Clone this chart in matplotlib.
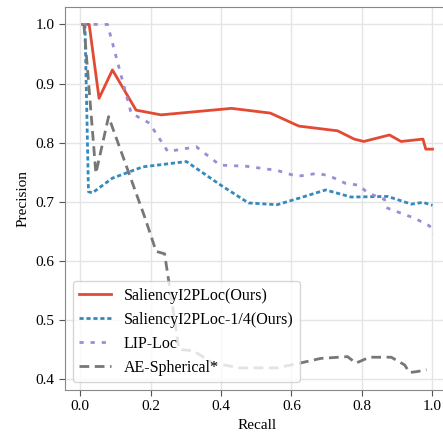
import numpy as np
import matplotlib.pyplot as plt

plt.rcParams['font.family'] = ['Liberation Serif', 'DejaVu Serif']

# PR curves
recall_ours = [0.007, 0.026, 0.054, 0.092, 0.159, 0.23, 0.43, 0.54, 0.621, 0.731,
               0.778, 0.805, 0.878, 0.911, 0.973, 0.981, 1.0]
prec_ours = [1.0, 1.0, 0.875, 0.923, 0.855, 0.847, 0.858, 0.850, 0.828, 0.820,
             0.806, 0.802, 0.813, 0.802, 0.806, 0.789, 0.789]

recall_quarter = [0.014, 0.024, 0.035, 0.092, 0.178, 0.302, 0.397, 0.478, 0.559,
                  0.621, 0.697, 0.769, 0.873, 0.94, 0.973, 1.0]
prec_quarter = [1.0, 0.717, 0.715, 0.740, 0.759, 0.768, 0.729, 0.698, 0.695,
                0.706, 0.720, 0.708, 0.709, 0.696, 0.699, 0.694]

recall_lip = [0.007, 0.078, 0.145, 0.197, 0.249, 0.33, 0.397, 0.473, 0.559, 0.616,
              0.673, 0.707, 0.754, 0.792, 0.816, 0.864, 0.869, 0.95, 0.992, 1.0]
prec_lip = [1.0, 1.0, 0.850, 0.833, 0.785, 0.793, 0.762, 0.760, 0.753, 0.743,
            0.748, 0.744, 0.731, 0.728, 0.715, 0.704, 0.690, 0.672, 0.659, 0.645]

recall_ae = [0.011, 0.045, 0.081, 0.183, 0.216, 0.24, 0.281, 0.321, 0.378, 0.454,
             0.559, 0.616, 0.683, 0.759, 0.783, 0.821, 0.883, 0.921, 0.935, 0.959, 0.983]
prec_ae = [1.0, 0.748, 0.844, 0.675, 0.616, 0.612, 0.450, 0.448, 0.427, 0.419,
           0.419, 0.426, 0.435, 0.438, 0.427, 0.437, 0.437, 0.424, 0.411, 0.413, 0.416]

xticks = [0.0, 0.2, 0.4, 0.6, 0.8, 1.0]
yticks = [0.4, 0.5, 0.6, 0.7, 0.8, 0.9, 1.0]

fig = plt.figure(figsize=(4.43, 4.33), dpi=100)
ax = fig.add_axes([0.1467, 0.0993, 0.869, 0.8845])

ax.plot(recall_ours, prec_ours, color='#E24A33', lw=2, label='SaliencyI2PLoc(Ours)')
ax.plot(recall_quarter, prec_quarter, color='#348ABD', lw=2, ls=(0, (1.5, 1)),
        label='SaliencyI2PLoc-1/4(Ours)')
ax.plot(recall_lip, prec_lip, color='#988ED5', lw=2, ls=(0, (1.5, 2.5)), label='LIP-Loc')
ax.plot(recall_ae, prec_ae, color='#777777', lw=2, ls=(0, (3.5, 2)), label='AE-Spherical*')

ax.set_xticks(xticks)
ax.set_yticks(yticks)
ax.tick_params(labelsize=11, color='#555555', length=4)
ax.set_xlabel('Recall', fontsize=11)
ax.set_ylabel('Precision', fontsize=11)
ax.grid(True, color='#e5e5e5', lw=1)
ax.set_axisbelow(True)
for s in ax.spines.values():
    s.set_color('#888888')

ax.legend(loc='lower left', fontsize=11.5, frameon=True, edgecolor='#cccccc')

fig.savefig('out.png', dpi=100)
